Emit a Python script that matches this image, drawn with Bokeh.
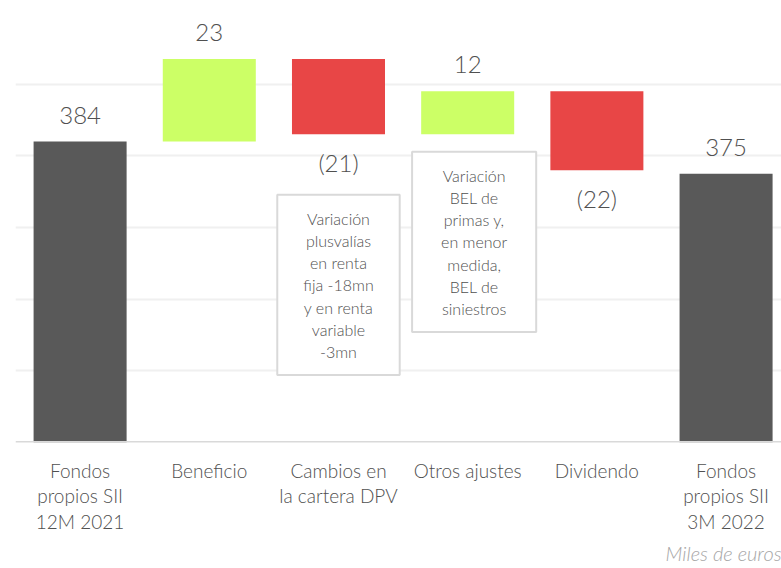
from bokeh.plotting import figure
from bokeh.models import Range1d, FixedTicker, Label, Span, ColumnDataSource, Title
from bokeh.embed import file_html
from bokeh.resources import INLINE
from bokeh.core.properties import value

# ---- data ----
categories = ["Fondos\npropios SII\n12M 2021", "Beneficio", "Cambios en\nla cartera DPV",
              "Otros ajustes", "Dividendo", "Fondos\npropios SII\n3M 2022"]
amounts = [384, 23, -21, 12, -22, 375]
value_labels = ["384", "23", "(21)", "12", "(22)", "375"]
kinds = ["total", "delta", "delta", "delta", "delta", "total"]
grid_values = [300, 320, 340, 360, 380, 400, 420]
note_dpv = "Variación\nplusvalías\nen renta\nfija -18mn\ny en renta\nvariable\n-3mn"
note_otros = "Variación\nBEL de\nprimas y,\nen menor\nmedida,\nBEL de\nsiniestros"
unit_text = "Miles de euros"

TOTAL_C, UP_C, DOWN_C = "#595959", "#CCFF66", "#E84646"
FONT = "Lato Light"
TXT = "#505050"

# ---- waterfall geometry from data ----
xs, tops, bottoms, colors = [], [], [], []
lab_y, lab_base, lab_off = [], [], []
running = 0
for i, (v, k) in enumerate(zip(amounts, kinds)):
    xs.append(i)
    if k == "total":
        b, t = 0, v
        running = v
        c = TOTAL_C
    else:
        b, t = min(running, running + v), max(running, running + v)
        c = UP_C if v >= 0 else DOWN_C
        running += v
    tops.append(t)
    bottoms.append(b)
    colors.append(c)
    if v >= 0:
        lab_y.append(t); lab_base.append("bottom"); lab_off.append(-18)
    else:
        lab_y.append(b); lab_base.append("top"); lab_off.append(14)

src = ColumnDataSource(dict(x=xs, top=tops, bottom=bottoms, color=colors))

p = figure(width=781, height=568, output_backend="svg", toolbar_location=None,
           x_range=Range1d(-0.5, 5.429), y_range=Range1d(300, 420),
           min_border_left=15, min_border_right=0, min_border_top=12, min_border_bottom=126)
p.outline_line_color = None
p.background_fill_color = "white"
p.border_fill_color = "white"

p.xgrid.visible = False
p.ygrid.ticker = FixedTicker(ticks=grid_values)
p.ygrid.grid_line_color = "#F0F0F0"
p.ygrid.grid_line_width = 2
p.yaxis.visible = False

p.vbar(x="x", top="top", bottom="bottom", width=0.72, fill_color="color",
       line_color=None, source=src)

p.add_layout(Span(location=grid_values[0], dimension="width", line_color="#D9D9D9", line_width=3))

for i in range(len(xs)):
    p.text(x=[xs[i]], y=[lab_y[i]], text=[value_labels[i]], text_align="center",
           text_baseline=lab_base[i], y_offset=lab_off[i],
           text_font=value(FONT), text_font_size="24px", text_color=TXT)

xa = p.xaxis[0]
xa.ticker = FixedTicker(ticks=xs)
xa.major_label_overrides = {i: c for i, c in enumerate(categories)}
xa.axis_line_color = None
xa.major_tick_line_color = None
xa.minor_tick_line_color = None
xa.major_label_standoff = 10
xa.major_label_text_font = FONT
xa.major_label_text_font_size = "19px"
xa.major_label_text_color = TXT
xa.major_label_text_line_height = 1.13

for xpos, ypos, txt, pad in [(2, 344, note_dpv, (26, 14)), (3.05, 356, note_otros, (29, 14))]:
    p.add_layout(Label(x=xpos, y=ypos, text=txt, text_align="center", text_baseline="middle",
                       text_font=FONT, text_font_size="16px", text_color=TXT,
                       text_line_height=1.17, padding=pad,
                       border_line_color="#D9D9D9", border_line_width=2,
                       background_fill_color="white"))

p.add_layout(Title(text=unit_text, align="right", text_font=FONT, text_font_style="italic",
                   text_font_size="20px", text_color="#A6A6A6", standoff=5), "below")

open("out.html", "w").write(file_html(p, INLINE))
